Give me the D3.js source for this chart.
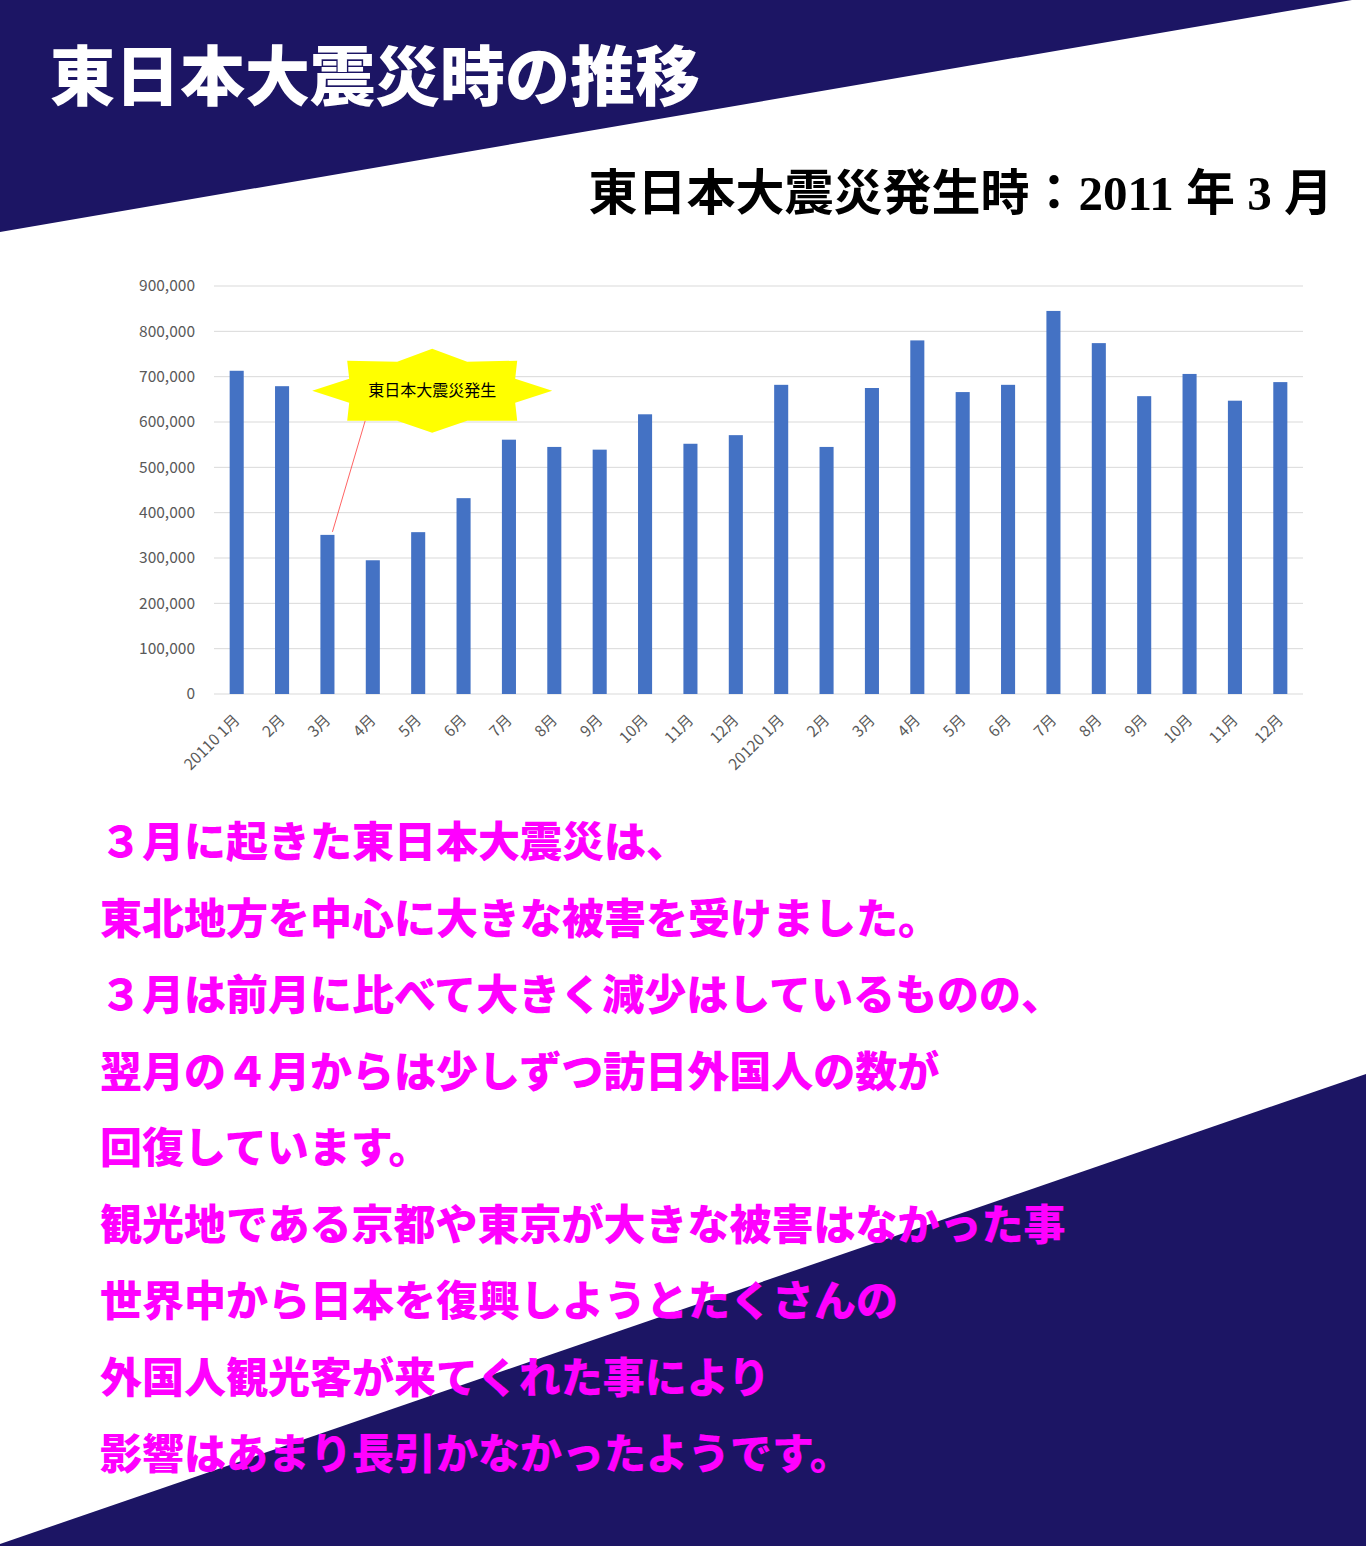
<!DOCTYPE html>
<html>
<head>
<meta charset="utf-8">
<script src="https://cdn.jsdelivr.net/npm/d3@7"></script>
<style>
  html, body { margin: 0; padding: 0; background: #fff; }
  svg { display: block; }
</style>
</head>
<body>
<div id="chart"></div>
<script>
// month labels as they appear on the axis
var months = ["20110 1月","2月","3月","4月","5月","6月","7月","8月","9月","10月","11月","12月",
              "20120 1月","2月","3月","4月","5月","6月","7月","8月","9月","10月","11月","12月"];
// visitors per month
var visitors = [713000, 679000, 351000, 295000, 357000, 432000, 561000, 545000, 539000, 617000, 552000, 571000,
                682000, 545000, 675000, 780000, 666000, 682000, 845000, 774000, 657000, 706000, 647000, 688000];
var yTicks = [0, 100000, 200000, 300000, 400000, 500000, 600000, 700000, 800000, 900000];

var titleText = "東日本大震災時の推移";
var subText = "東日本大震災発生時：2011 年 3 月";
var calloutText = "東日本大震災発生";
var bodyLines = [
  "３月に起きた東日本大震災は、",
  "東北地方を中心に大きな被害を受けました。",
  "３月は前月に比べて大きく減少はしているものの、",
  "翌月の４月からは少しずつ訪日外国人の数が",
  "回復しています。",
  "観光地である京都や東京が大きな被害はなかった事",
  "世界中から日本を復興しようとたくさんの",
  "外国人観光客が来てくれた事により",
  "影響はあまり長引かなかったようです。"
];

var W = 1366, H = 1546;
var navy = "#1c1564";

var svg = d3.select("#chart").append("svg")
  .attr("width", W).attr("height", H);

// background triangles
svg.append("path")
  .attr("d", "M0,0 L1352,0 L0,232 Z")
  .attr("fill", navy);
svg.append("path")
  .attr("d", "M0,1544 L1366,1074 L1366,1546 L0,1546 Z")
  .attr("fill", navy);

svg.append("text")
  .text(titleText)
  .attr("x", 50).attr("y", 100)
  .attr("fill", "#fff")
  .attr("font-size", 65)
  .attr("font-weight", 900)
  .attr("font-family", "'Noto Sans CJK JP', sans-serif");

svg.append("text")
  .text(subText)
  .attr("x", 1333).attr("y", 210)
  .attr("text-anchor", "end")
  .attr("fill", "#000")
  .attr("font-size", 49)
  .attr("font-weight", 700)
  .attr("font-family", "'Liberation Serif', 'Noto Sans CJK JP', serif");

// chart area
var plot = {left: 214, right: 1303, top: 286, bottom: 694};

var x = d3.scaleBand()
  .domain(d3.range(months.length))
  .range([plot.left, plot.right])
  .paddingInner(0.69)
  .paddingOuter(0.345);

var y = d3.scaleLinear()
  .domain([0, 900000])
  .range([plot.bottom, plot.top]);

// grid
svg.append("g")
  .selectAll("line")
  .data(yTicks)
  .join("line")
  .attr("x1", plot.left).attr("x2", plot.right)
  .attr("y1", function(d){ return y(d); })
  .attr("y2", function(d){ return y(d); })
  .attr("stroke", "#d9d9d9")
  .attr("stroke-width", 1);

var yAxis = svg.append("g")
  .attr("transform", "translate(" + (plot.left - 16) + ",0)")
  .call(d3.axisLeft(y).tickValues(yTicks).tickSize(0).tickFormat(d3.format(",")));
yAxis.select(".domain").remove();
yAxis.selectAll("text")
  .attr("fill", "#595959")
  .attr("font-size", 15.5)
  .attr("font-family", "'Noto Sans CJK JP', sans-serif");

// bars
svg.append("g")
  .selectAll("rect")
  .data(visitors)
  .join("rect")
  .attr("x", function(d, i){ return x(i); })
  .attr("width", x.bandwidth())
  .attr("y", function(d){ return y(d); })
  .attr("height", function(d){ return y(0) - y(d); })
  .attr("fill", "#4472c4");

// x labels
var xAxis = svg.append("g")
  .attr("transform", "translate(0," + plot.bottom + ")")
  .call(d3.axisBottom(x).tickSize(0).tickFormat(function(i){ return months[i]; }));
xAxis.select(".domain").remove();
xAxis.selectAll("text")
  .attr("fill", "#595959")
  .attr("font-size", 15.5)
  .attr("font-family", "'Noto Sans CJK JP', sans-serif")
  .attr("text-anchor", "end")
  .attr("dy", null)
  .attr("y", 0)
  .attr("transform", "translate(4,27) rotate(-45)");

// callout star
var cx = x(4) + x.bandwidth() / 2 + 14, cy = y(669000);
var star = [[0,-42],[35,-29],[85,-30],[83,-12],[120,0],[83,12],[85,30],[35,30],
            [0,42],[-35,30],[-85,30],[-83,12],[-120,0],[-83,-12],[-85,-30],[-35,-29]];

svg.append("line")
  .attr("x1", cx - 67).attr("y1", cy + 30)
  .attr("x2", x(2) + x.bandwidth() / 2 + 5)
  .attr("y2", y(visitors[2]) - 3)
  .attr("stroke", "#ff3b3b")
  .attr("stroke-width", 0.8);

svg.append("path")
  .attr("d", d3.line()(star.map(function(p){ return [cx + p[0], cy + p[1]]; })) + "Z")
  .attr("fill", "#ffff00");

svg.append("text")
  .text(calloutText)
  .attr("x", cx).attr("y", cy + 5)
  .attr("text-anchor", "middle")
  .attr("fill", "#000")
  .attr("font-size", 16)
  .attr("font-family", "'Noto Sans CJK JP', sans-serif");

// body text
svg.append("g")
  .selectAll("text")
  .data(bodyLines)
  .join("text")
  .text(function(d){ return d; })
  .attr("x", 100)
  .attr("y", function(d, i){ return 857 + i * 76.5; })
  .attr("fill", "#ff00ff")
  .attr("font-size", 42)
  .attr("font-weight", 900)
  .attr("font-family", "'Noto Sans CJK JP', sans-serif");
</script>
</body>
</html>
